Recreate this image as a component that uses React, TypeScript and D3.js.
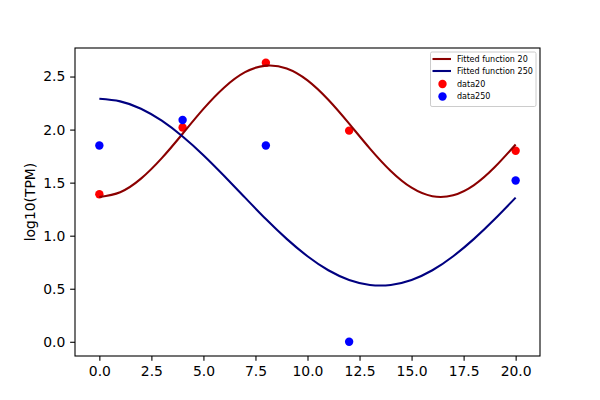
import React, { useEffect, useRef } from 'react';
import * as d3 from 'd3';

// fitted curves at every x from 0 to 20
const fitX = [0, 1, 2, 3, 4, 5, 6, 7, 8, 9, 10, 11, 12, 13, 14, 15, 16, 17, 18, 19, 20];
const fit20 = [1.365, 1.41, 1.538, 1.731, 1.961, 2.195, 2.397, 2.541, 2.603, 2.576, 2.464, 2.281, 2.056, 1.821, 1.61, 1.452, 1.372, 1.381, 1.477, 1.647, 1.86];
const fit250 = [2.29, 2.266, 2.197, 2.084, 1.935, 1.759, 1.563, 1.359, 1.157, 0.97, 0.806, 0.674, 0.583, 0.536, 0.536, 0.583, 0.674, 0.806, 0.97, 1.157, 1.359];

// measured samples
const sampleX = [0, 4, 8, 12, 20];
const data20 = [1.39, 2.02, 2.63, 1.99, 1.8];
const data250 = [1.85, 2.09, 1.85, 0.0, 1.52];

const xTicks = [0, 2.5, 5, 7.5, 10, 12.5, 15, 17.5, 20];
const yTicks = [0, 0.5, 1, 1.5, 2, 2.5];

const legendItems = [
  { label: 'Fitted function 20', color: '#8b0000', kind: 'line' },
  { label: 'Fitted function 250', color: '#000080', kind: 'line' },
  { label: 'data20', color: '#ff0000', kind: 'dot' },
  { label: 'data250', color: '#0000ff', kind: 'dot' },
];

const App: React.FC = () => {
  const ref = useRef<HTMLDivElement | null>(null);

  useEffect(() => {
    if (!ref.current) return;
    d3.select(ref.current).selectAll('*').remove();

    const W = 600;
    const H = 400;
    const m = { top: 48, right: 60, bottom: 44, left: 75 };
    const font = 'DejaVu Sans, sans-serif';

    const svg = d3.select(ref.current)
      .append('svg')
      .attr('width', W)
      .attr('height', H)
      .style('position', 'absolute')
      .style('left', '0px')
      .style('top', '0px')
      .style('background', '#fff');

    const x = d3.scaleLinear().domain([-1.17, 21.17]).range([m.left, W - m.right]);
    const y = d3.scaleLinear().domain([-0.134, 2.769]).range([H - m.bottom, m.top]);

    const plot = svg.append('g');

    // scatter sits under the lines, as in matplotlib
    const dots = (vals: number[], color: string) => {
      plot.append('g')
        .selectAll('circle')
        .data(vals)
        .enter()
        .append('circle')
        .attr('cx', (_, i) => x(sampleX[i]))
        .attr('cy', d => y(d))
        .attr('r', 4.2)
        .attr('fill', color);
    };
    dots(data20, '#ff0000');
    dots(data250, '#0000ff');

    const line = d3.line<number>()
      .x((_, i) => x(fitX[i]))
      .y(d => y(d))
      .curve(d3.curveNatural);

    plot.append('path').datum(fit20)
      .attr('d', line).attr('fill', 'none')
      .attr('stroke', '#8b0000').attr('stroke-width', 2.08);
    plot.append('path').datum(fit250)
      .attr('d', line).attr('fill', 'none')
      .attr('stroke', '#000080').attr('stroke-width', 2.08);

    // axes
    const xAxis = svg.append('g')
      .attr('transform', `translate(0,${H - m.bottom})`)
      .call(d3.axisBottom(x).tickValues(xTicks).tickFormat(d3.format('.1f')).tickSize(4.86).tickPadding(4.86));
    const yAxis = svg.append('g')
      .attr('transform', `translate(${m.left},0)`)
      .call(d3.axisLeft(y).tickValues(yTicks).tickFormat(d3.format('.1f')).tickSize(4.86).tickPadding(4.86));

    [xAxis, yAxis].forEach(a => {
      a.select('.domain').remove();
      a.selectAll('line').attr('stroke', '#000').attr('stroke-width', 1.1);
      a.selectAll('text')
        .attr('fill', '#000')
        .style('font-family', font)
        .style('font-size', '13.9px');
    });

    svg.append('rect')
      .attr('x', m.left)
      .attr('y', m.top)
      .attr('width', W - m.left - m.right)
      .attr('height', H - m.top - m.bottom)
      .attr('fill', 'none')
      .attr('stroke', '#000')
      .attr('stroke-width', 1.1);

    svg.append('text')
      .attr('transform', `translate(35,${(m.top + H - m.bottom) / 2}) rotate(-90)`)
      .attr('text-anchor', 'middle')
      .style('font-family', font)
      .style('font-size', '13.9px')
      .text('log10(TPM)');

    // legend
    const lg = svg.append('g');
    lg.append('rect')
      .attr('x', 430.5)
      .attr('y', 52)
      .attr('width', 105.5)
      .attr('height', 54.5)
      .attr('rx', 1.6)
      .attr('fill', 'rgba(255,255,255,0.8)')
      .attr('stroke', '#cccccc')
      .attr('stroke-width', 1);

    const rowY = [59, 71, 84, 96.5];
    legendItems.forEach((it, i) => {
      const cy = rowY[i];
      if (it.kind === 'line') {
        lg.append('line')
          .attr('x1', 432.5).attr('x2', 451)
          .attr('y1', cy).attr('y2', cy)
          .attr('stroke', it.color).attr('stroke-width', 2.08);
      } else {
        lg.append('circle')
          .attr('cx', 442.5).attr('cy', cy)
          .attr('r', 4.2).attr('fill', it.color);
      }
      lg.append('text')
        .attr('x', 457)
        .attr('y', cy)
        .attr('dy', '0.35em')
        .style('font-family', font)
        .style('font-size', '8.04px')
        .text(it.label);
    });
  }, []);

  return <div ref={ref} />;
};

export default App;
